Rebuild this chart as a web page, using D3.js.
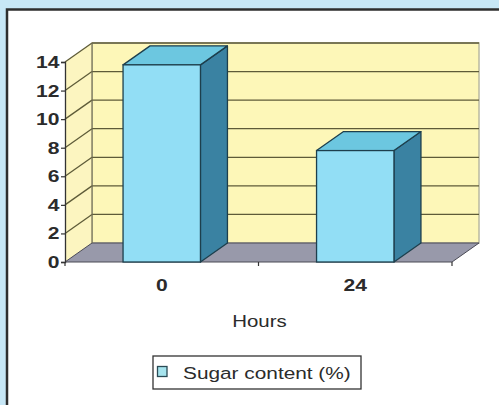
<!DOCTYPE html>
<html>
<head>
<meta charset="utf-8">
<script src="https://cdn.jsdelivr.net/npm/d3@7"></script>
<style>
  html, body { margin: 0; padding: 0; background: #c7e7f6; }
  svg { display: block; }
</style>
</head>
<body>
<svg id="chart" width="499" height="405"></svg>
<script>
// Sugar content measured at two time points
const categories = ["0", "24"];
const sugarValues = [13.8, 7.8];
const yTicks = [0, 2, 4, 6, 8, 10, 12, 14];
const seriesName = "Sugar content (%)";
const xTitle = "Hours";

const svg = d3.select("#chart");
const W = 499, H = 405;

// 3D depth offset of the plot box
const dx = 27, dy = -19;
// text is drawn slightly widened
const stretch = "scale(1.24,1)";

const x = d3.scaleBand()
  .domain(categories)
  .range([65, 452])
  .paddingInner(0.6)
  .paddingOuter(0.3);
const y = d3.scaleLinear().domain([0, 14]).range([262, 62]);

const fontFam = "Arial, 'Liberation Sans', Helvetica, sans-serif";

// panel
svg.append("rect").attr("x", 0).attr("y", 0).attr("width", W).attr("height", H).attr("fill", "#c7e7f6");
svg.append("rect").attr("x", 7).attr("y", 9.5).attr("width", W + 10).attr("height", H)
  .attr("fill", "#ffffff").attr("stroke", "#2e2e2e").attr("stroke-width", 2.5);

const x0 = x.range()[0], x1 = x.range()[1];
const y0 = y(0), yTop = y(14);

const g = svg.append("g");

// back wall
g.append("rect")
  .attr("x", x0 + dx).attr("y", yTop + dy)
  .attr("width", x1 - x0).attr("height", y0 - yTop)
  .attr("fill", "#fdf7b8").attr("stroke", "#b9b9a0").attr("stroke-width", 1.5);

// left side wall
g.append("path")
  .attr("d", `M${x0},${y0} L${x0},${yTop} L${x0 + dx},${yTop + dy} L${x0 + dx},${y0 + dy} Z`)
  .attr("fill", "#fcf5c0").attr("stroke", "none");

// floor
g.append("path")
  .attr("d", `M${x0},${y0} L${x1},${y0} L${x1 + dx},${y0 + dy} L${x0 + dx},${y0 + dy} Z`)
  .attr("fill", "#9899aa").attr("stroke", "#4a4a55").attr("stroke-width", 1);

// gridlines on back wall and side wall
const gridTicks = yTicks.filter(t => t > 0);
g.selectAll(".grid-back").data(gridTicks).enter().append("line")
  .attr("x1", x0 + dx).attr("x2", x1 + dx)
  .attr("y1", d => y(d) + dy).attr("y2", d => y(d) + dy)
  .attr("stroke", "#5e5b38").attr("stroke-width", 1.3);
g.selectAll(".grid-side").data(gridTicks).enter().append("line")
  .attr("x1", x0).attr("x2", x0 + dx)
  .attr("y1", d => y(d)).attr("y2", d => y(d) + dy)
  .attr("stroke", "#5e5b38").attr("stroke-width", 1.3);
// back-left vertical edge
g.append("line")
  .attr("x1", x0 + dx).attr("x2", x0 + dx)
  .attr("y1", yTop + dy).attr("y2", y0 + dy)
  .attr("stroke", "#6e6c50").attr("stroke-width", 1.2);

// bars (front, top, side faces)
const bars = g.selectAll(".bar").data(categories.map((c, i) => ({ c, v: sugarValues[i] })))
  .enter().append("g");
bars.each(function (d) {
  const gb = d3.select(this);
  const bx = x(d.c), bw = x.bandwidth(), by = y(d.v);
  gb.append("path") // side
    .attr("d", `M${bx + bw},${by} L${bx + bw + dx},${by + dy} L${bx + bw + dx},${y0 + dy} L${bx + bw},${y0} Z`)
    .attr("fill", "#3a82a2").attr("stroke", "#1d3f4d").attr("stroke-width", 1.3).attr("stroke-linejoin", "round");
  gb.append("path") // top
    .attr("d", `M${bx},${by} L${bx + dx},${by + dy} L${bx + bw + dx},${by + dy} L${bx + bw},${by} Z`)
    .attr("fill", "#6cc7e0").attr("stroke", "#1d3f4d").attr("stroke-width", 1.3).attr("stroke-linejoin", "round");
  gb.append("rect") // front
    .attr("x", bx).attr("y", by).attr("width", bw).attr("height", y0 - by)
    .attr("fill", "#92def5").attr("stroke", "#1d3f4d").attr("stroke-width", 1.3);
});

// y axis
const yAxis = svg.append("g")
  .attr("transform", `translate(${x0},0)`)
  .call(d3.axisLeft(y).tickValues(yTicks).tickSize(4).tickPadding(0.5).tickFormat(d3.format("d")));
yAxis.select(".domain").attr("stroke", "#333").attr("stroke-width", 1.3);
yAxis.selectAll(".tick line").attr("stroke", "#333").attr("stroke-width", 1.2);
yAxis.selectAll("text")
  .attr("font-family", fontFam).attr("font-size", 17).attr("font-weight", "bold").attr("fill", "#2b2b2b")
  .attr("transform", stretch);

// x axis: boundary ticks below the floor edge, labels at category centres
const boundaries = [x0, (x0 + x1) / 2, x1];
svg.selectAll(".xtick").data(boundaries).enter().append("line")
  .attr("x1", d => d).attr("x2", d => d)
  .attr("y1", y0).attr("y2", y0 + 4)
  .attr("stroke", "#333").attr("stroke-width", 1.2);
const xAxis = svg.append("g")
  .attr("transform", `translate(0,${y0})`)
  .call(d3.axisBottom(x).tickSize(0).tickPadding(17));
xAxis.select(".domain").remove();
xAxis.selectAll("text")
  .attr("font-family", fontFam).attr("font-size", 17).attr("font-weight", "bold").attr("fill", "#2b2b2b")
  .attr("transform", stretch);

// x title
svg.append("g").attr("transform", `translate(${(x0 + x1) / 2 + 1},327)`)
  .append("text")
  .attr("transform", stretch)
  .attr("text-anchor", "middle")
  .attr("font-family", fontFam).attr("font-size", 16.5).attr("fill", "#2b2b2b")
  .text(xTitle);

// legend
const lg = svg.append("g");
lg.append("rect").attr("x", 153).attr("y", 356).attr("width", 208).attr("height", 33)
  .attr("fill", "#ffffff").attr("stroke", "#333").attr("stroke-width", 1.3);
lg.append("rect").attr("x", 157.5).attr("y", 366.5).attr("width", 9.5).attr("height", 10)
  .attr("fill", "#a6e4ee").attr("stroke", "#2a4a55").attr("stroke-width", 1.3);
lg.append("g").attr("transform", "translate(183,378.5)")
  .append("text")
  .attr("transform", stretch)
  .attr("font-family", fontFam).attr("font-size", 16.8).attr("fill", "#2b2b2b")
  .text(seriesName);
</script>
</body>
</html>
